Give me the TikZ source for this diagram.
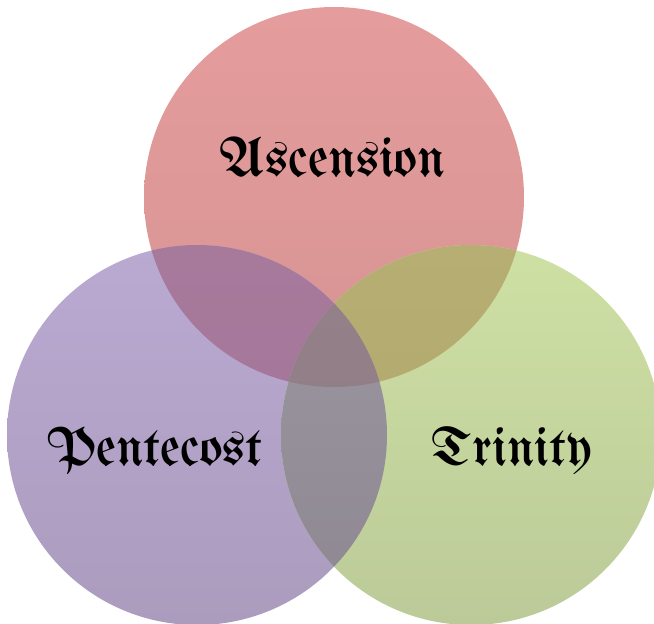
\documentclass[tikz,border=0pt]{standalone}
\usepackage{fontspec}
\usepackage{graphicx}
\IfFontExistsTF{UnifrakturMaguntia}
  {\newfontfamily\gothfont{UnifrakturMaguntia}}
  {\newfontfamily\gothfont{Liberation Serif}}
\definecolor{redT}{HTML}{E59C9C}
\definecolor{redB}{HTML}{D69493}
\definecolor{purT}{HTML}{BAAAD2}
\definecolor{purB}{HTML}{AB9BBD}
\definecolor{grnT}{HTML}{CFE0A4}
\definecolor{grnB}{HTML}{BBCA98}
\definecolor{rpT}{HTML}{A77A9C}
\definecolor{rpB}{HTML}{A27398}
\definecolor{rgT}{HTML}{B6AE72}
\definecolor{rgB}{HTML}{B0A56C}
\definecolor{pgT}{HTML}{9C97A0}
\definecolor{pgB}{HTML}{8E8792}
\definecolor{allT}{HTML}{95818A}
\definecolor{allB}{HTML}{8E7A80}
\tikzset{
  lbl/.style={anchor=base, inner sep=0pt, text=black, font=\gothfont}
}
\begin{document}
\begin{tikzpicture}[x=1pt,y=-1pt]
\useasboundingbox (0,0) rectangle (654,624);
\coordinate (A) at (334,197);
\coordinate (P) at (197,435);
\coordinate (G) at (471,435);
% single regions
\shade[top color=redT, bottom color=redB] (A) circle[radius=190pt];
\shade[top color=purT, bottom color=purB] (P) circle[radius=190pt];
\shade[top color=grnT, bottom color=grnB] (G) circle[radius=190pt];
% pairwise overlaps
\begin{scope}
  \clip (A) circle[radius=190pt];
  \shade[top color=rpT, bottom color=rpB] (P) circle[radius=190pt];
  \shade[top color=rgT, bottom color=rgB] (G) circle[radius=190pt];
\end{scope}
\begin{scope}
  \clip (P) circle[radius=190pt];
  \shade[top color=pgT, bottom color=pgB] (G) circle[radius=190pt];
\end{scope}
\begin{scope}
  \clip (A) circle[radius=190pt];
  \clip (P) circle[radius=190pt];
  \shade[top color=allT, bottom color=allB] (G) circle[radius=190pt];
\end{scope}
% labels
\node[lbl] (asc) at (333,176) {\resizebox{226pt}{!}{Ascension}};
\node[lbl] (pen) at (155,465) {\resizebox{215pt}{!}{Pentecost}};
\node[lbl] (tri) at (512,465) {\resizebox{160pt}{!}{Trinity}};
\end{tikzpicture}
\end{document}
